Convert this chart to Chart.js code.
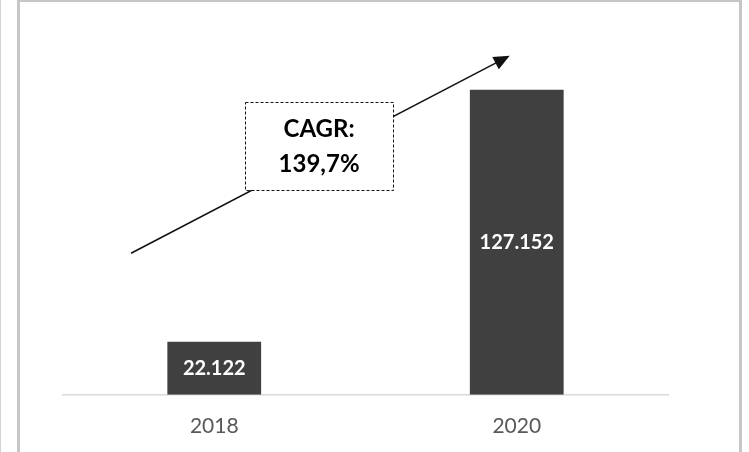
<!DOCTYPE html>
<html>
<head>
<meta charset="utf-8">
<script src="https://cdn.jsdelivr.net/npm/chart.js@4.4.1/dist/chart.umd.min.js"></script>
<style>
  body { margin: 0; background: #fff; }
  #wrap { position: relative; width: 749px; height: 452px; overflow: hidden; }
  #frame { position: absolute; left: 17px; top: 0; width: 719px; height: 470px;
           border-left: 3px solid #c6c6c6; border-top: 2px solid #c6c6c6; border-right: 3px solid #c6c6c6; }
  #edge { position: absolute; left: 0; top: 0; width: 1px; height: 452px; background: #d4d4d4; }
  canvas { position: absolute; left: 0; top: 0; }
</style>
</head>
<body>
<div id="wrap">
  <div id="edge"></div>
  <div id="frame"></div>
  <canvas id="myChart" width="749" height="452"></canvas>
</div>
<script>
const years = ['2018', '2020']
const values = [22122, 127152]
const cagrLines = ['CAGR:', '139,7%']

const fmt = v => String(v).replace(/\B(?=(\d{3})+(?!\d))/g, '.')

// white value labels in the middle of each bar
const barLabels = {
    id: 'barLabels',
    afterDatasetsDraw(chart) {
        const ctx = chart.ctx
        chart.getDatasetMeta(0).data.forEach((bar, i) => {
            ctx.save()
            ctx.fillStyle = '#ffffff'
            ctx.font = 'bold 20px Lato'
            ctx.textAlign = 'center'
            ctx.textBaseline = 'middle'
            ctx.fillText(fmt(values[i]), bar.x, (bar.y + bar.base) / 2)
            ctx.restore()
        })
    }
}

// growth arrow with dashed CAGR box
const cagrArrow = {
    id: 'cagrArrow',
    afterDraw(chart) {
        const { ctx, scales: { x, y } } = chart
        const x0 = x.getPixelForValue(-0.275), y0 = y.getPixelForValue(59000)
        const x1 = x.getPixelForValue(0.968), y1 = y.getPixelForValue(140800)
        ctx.save()
        ctx.strokeStyle = '#111'
        ctx.lineWidth = 1.5
        ctx.beginPath()
        ctx.moveTo(x0, y0)
        ctx.lineTo(x1, y1)
        ctx.stroke()
        // arrow head
        const a = Math.atan2(y1 - y0, x1 - x0)
        ctx.fillStyle = '#111'
        ctx.beginPath()
        ctx.moveTo(x1 + 3 * Math.cos(a), y1 + 3 * Math.sin(a))
        ctx.lineTo(x1 - 13 * Math.cos(a) + 7 * Math.sin(a), y1 - 13 * Math.sin(a) - 7 * Math.cos(a))
        ctx.lineTo(x1 - 13 * Math.cos(a) - 7 * Math.sin(a), y1 - 13 * Math.sin(a) + 7 * Math.cos(a))
        ctx.closePath()
        ctx.fill()

        // box
        const bl = x.getPixelForValue(0.102), br = x.getPixelForValue(0.591)
        const bt = y.getPixelForValue(122000), bb = y.getPixelForValue(85400)
        ctx.fillStyle = '#fff'
        ctx.fillRect(bl, bt, br - bl, bb - bt)
        ctx.setLineDash([3, 2])
        ctx.lineWidth = 1
        ctx.strokeRect(Math.round(bl) + 0.5, Math.round(bt) + 0.5, Math.round(br - bl), Math.round(bb - bt))
        ctx.setLineDash([])
        ctx.fillStyle = '#000'
        ctx.font = 'bold 24px Lato'
        ctx.textAlign = 'center'
        ctx.textBaseline = 'middle'
        const cx = (bl + br) / 2, cy = (bt + bb) / 2
        ctx.fillText(cagrLines[0], cx, cy - 17)
        ctx.fillText(cagrLines[1], cx, cy + 18)
        ctx.restore()
    }
}

new Chart(document.getElementById('myChart'), {
    type: 'bar',
    data: {
        labels: years,
        datasets: [{
            data: values,
            backgroundColor: '#404040',
            borderWidth: 0,
            barPercentage: 0.31,
            categoryPercentage: 1
        }]
    },
    options: {
        responsive: false,
        animation: false,
        layout: { padding: { left: 63, right: 81, top: 35, bottom: -6 } },
        plugins: { legend: { display: false }, tooltip: { enabled: false } },
        scales: {
            x: {
                offset: true,
                grid: { display: false, drawTicks: false },
                border: { display: true, color: '#d9d9d9', width: 1.5 },
                ticks: { color: '#595959', font: { family: 'Lato', size: 21 }, padding: 19 }
            },
            y: { display: false, min: 0, max: 150000 }
        }
    },
    plugins: [barLabels, cagrArrow]
})
</script>
</body>
</html>
